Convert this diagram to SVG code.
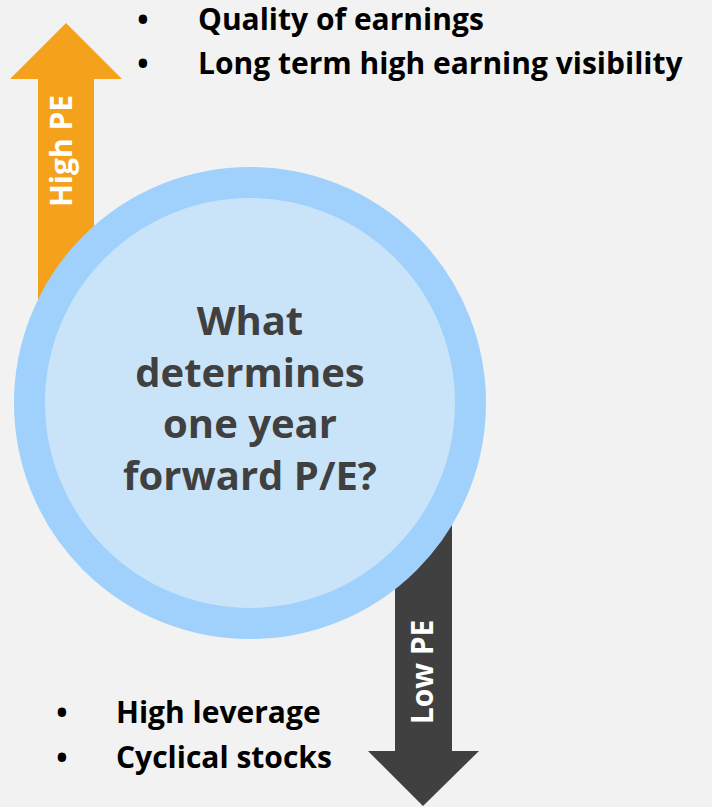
<svg xmlns="http://www.w3.org/2000/svg" width="712" height="807" viewBox="0 0 712 807">
<style>
.bul{font-family:"Open Sans","DejaVu Sans",sans-serif;font-weight:bold;font-size:30px;fill:#000}
.lbl{font-family:"Open Sans","DejaVu Sans",sans-serif;font-weight:bold;font-size:30px;fill:#fff}
.ctr{font-family:"Open Sans","DejaVu Sans",sans-serif;font-weight:bold;font-size:40px;fill:#404040}
</style>
<rect width="712" height="807" fill="#F2F2F2"/>
<g id="connectors">
<g id="high-pe-arrow">
<polygon points="66,23 122,79 94,79 94,330 38,330 38,79 10,79" fill="#F4A11B"/>
<text class="lbl" text-anchor="middle" transform="translate(72,151) rotate(-90)">High PE</text>
</g>
<g id="low-pe-arrow">
<polygon points="395,480 452,480 452,751 479,751 423,806 368,751 395,751" fill="#404040"/>
<text class="lbl" text-anchor="middle" transform="translate(433,672) rotate(-90)">Low PE</text>
</g>
</g>
<g id="center-node">
<circle cx="250" cy="403" r="220.5" fill="#C9E4F8" stroke="#9FD1FC" stroke-width="31"/>
<text class="ctr" text-anchor="middle" x="250" y="335">What</text>
<text class="ctr" text-anchor="middle" x="250" y="387">determines</text>
<text class="ctr" text-anchor="middle" x="250" y="438">one year</text>
<text class="ctr" text-anchor="middle" x="250" y="490">forward P/E?</text>
</g>
<g id="high-pe-list">
<text class="bul" text-anchor="middle" x="143" y="30">•</text>
<text class="bul" x="198" y="30">Quality of earnings</text>
<text class="bul" text-anchor="middle" x="143" y="74">•</text>
<text class="bul" x="198" y="74">Long term high earning visibility</text>
</g>
<g id="low-pe-list">
<text class="bul" text-anchor="middle" x="62" y="723">•</text>
<text class="bul" x="116" y="723">High leverage</text>
<text class="bul" text-anchor="middle" x="62" y="768">•</text>
<text class="bul" x="116" y="768">Cyclical stocks</text>
</g>
</svg>
